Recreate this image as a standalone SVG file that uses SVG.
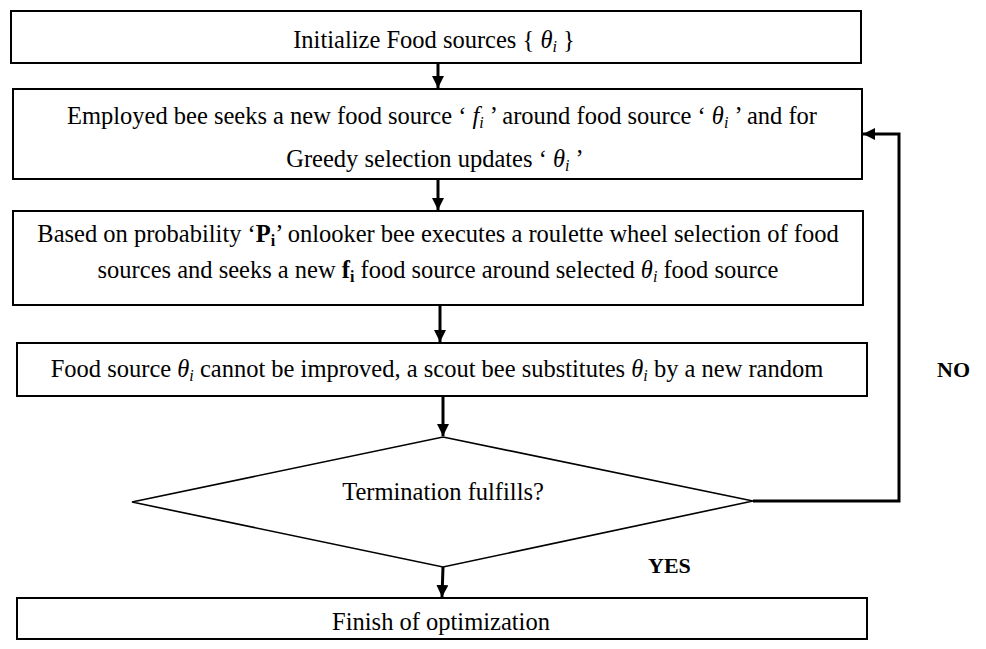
<svg xmlns="http://www.w3.org/2000/svg" width="986" height="649" viewBox="0 0 986 649">
<defs>
<style>
.box{fill:#fff;stroke:#000;stroke-width:2}
.dia{fill:#fff;stroke:#000;stroke-width:1.6}
.t{font-size:24.5px;fill:#000;text-anchor:middle}
.lbl{font-size:22px;font-weight:bold;fill:#000}
.it{font-style:italic}
.b{font-weight:bold}
.sub{font-size:16px}
.conn{fill:none;stroke:#000;stroke-width:3}
</style>
<marker id="ah" viewBox="0 0 10 10" refX="10" refY="5" markerWidth="4.2" markerHeight="4" orient="auto" markerUnits="strokeWidth">
<path d="M0,0 L10,5 L0,10 Z" fill="#000"/>
</marker>
</defs>
<rect width="986" height="649" fill="#fff"/>
<g font-family="Liberation Serif, Times New Roman, serif">

<g id="connectors">
<line class="conn" x1="438" y1="63" x2="438" y2="88" marker-end="url(#ah)"/>
<line class="conn" x1="438" y1="179" x2="438" y2="210" marker-end="url(#ah)"/>
<line class="conn" x1="440" y1="305" x2="440" y2="342" marker-end="url(#ah)"/>
<line class="conn" x1="443" y1="396" x2="443" y2="436" marker-end="url(#ah)"/>
<line class="conn" x1="443" y1="567" x2="442" y2="597" marker-end="url(#ah)"/>
<polyline class="conn" points="753,501 899,501 899,134 863,134" marker-end="url(#ah)"/>
<text class="lbl" x="937" y="377">NO</text>
<text class="lbl" x="648" y="573">YES</text>
</g>

<g id="n1">
<rect class="box" x="11" y="11" width="850" height="52"/>
<text class="t" x="434" y="48">Initialize Food sources { <tspan class="it">θ</tspan><tspan class="it sub" dy="4">i</tspan><tspan dy="-4"> }</tspan></text>
</g>

<g id="n2">
<rect class="box" x="13" y="89" width="849" height="90"/>
<text class="t" x="442" y="124">Employed bee seeks a new food source ‘ <tspan class="it">f</tspan><tspan class="it sub" dy="4">i</tspan><tspan dy="-4"> ’ around food source ‘ </tspan><tspan class="it">θ</tspan><tspan class="it sub" dy="4">i</tspan><tspan dy="-4"> ’ and for</tspan></text>
<text class="t" x="435" y="167">Greedy selection updates ‘ <tspan class="it">θ</tspan><tspan class="it sub" dy="4">i</tspan><tspan dy="-4"> ’</tspan></text>
</g>

<g id="n3">
<rect class="box" x="13" y="211" width="850" height="94"/>
<text class="t" x="438" y="242">Based on probability ‘<tspan class="b">P</tspan><tspan class="b sub" dy="4">i</tspan><tspan dy="-4">’ onlooker bee executes a roulette wheel selection of food</tspan></text>
<text class="t" x="438" y="278">sources and seeks a new <tspan class="b">f</tspan><tspan class="b sub" dy="4">i</tspan><tspan dy="-4"> food source around selected  </tspan><tspan class="it">θ</tspan><tspan class="it sub" dy="4">i</tspan><tspan dy="-4"> food source</tspan></text>
</g>

<g id="n4">
<rect class="box" x="17" y="343" width="850" height="53"/>
<text class="t" x="437" y="377">Food source  <tspan class="it">θ</tspan><tspan class="it sub" dy="4">i</tspan><tspan dy="-4"> cannot be improved, a scout bee substitutes  </tspan><tspan class="it">θ</tspan><tspan class="it sub" dy="4">i</tspan><tspan dy="-4"> by a new random</tspan></text>
</g>

<g id="n5">
<polygon class="dia" points="443,437 753,501 443,567 132,502"/>
<text class="t" x="443" y="500">Termination fulfills?</text>
</g>

<g id="n6">
<rect class="box" x="17" y="598" width="850" height="41"/>
<text class="t" x="441" y="630">Finish of optimization</text>
</g>
</g>
</svg>
